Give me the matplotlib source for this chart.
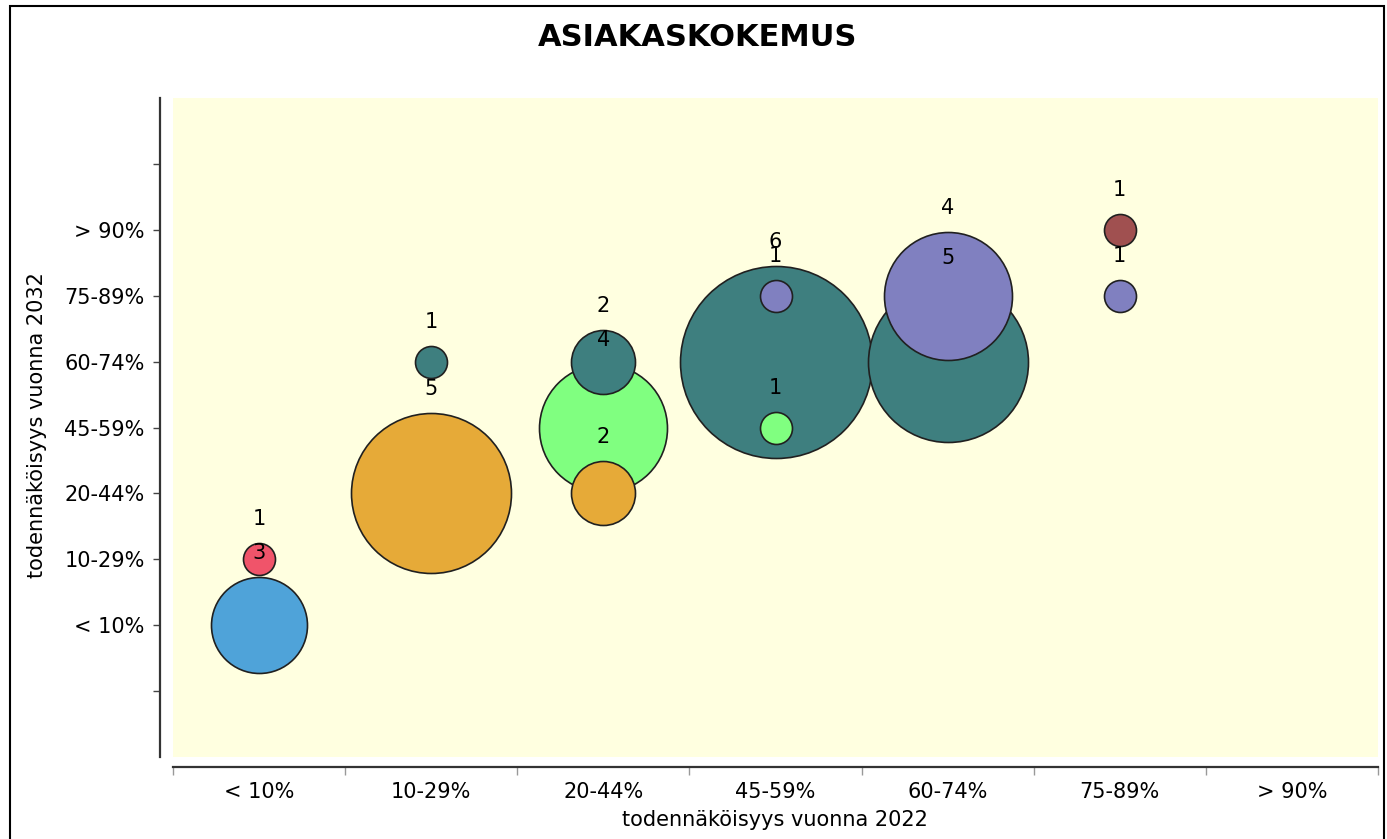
import matplotlib
matplotlib.use("Agg")
import matplotlib.pyplot as plt
from matplotlib.patches import Rectangle

# Categories (same scale on both axes)
categories = ["< 10%", "10-29%", "20-44%", "45-59%", "60-74%", "75-89%", "> 90%"]

# Bubbles: x category index, y category index, count, colour
bubble_x = [0, 0, 1, 1, 2, 2, 2, 3, 3, 3, 4, 4, 5, 5]
bubble_y = [0, 1, 2, 4, 4, 3, 2, 4, 5, 3, 4, 5, 6, 5]
bubble_n = [3, 1, 5, 1, 2, 4, 2, 6, 1, 1, 5, 4, 1, 1]
bubble_c = ["#4FA3D9", "#F0546A", "#E6AA38", "#3E7F7F", "#3E7F7F", "#80FF80",
            "#E6AA38", "#3E7F7F", "#8080C0", "#80FF80", "#3E7F7F", "#8080C0",
            "#A05050", "#8080C0"]

DPI = 100
R_PX = 16  # bubble radius per count, pixels

fig = plt.figure(figsize=(13.87, 8.39), dpi=DPI)
fig.patch.set_facecolor("white")
ax = fig.add_axes([173 / 1387, 82 / 839, 1205 / 1387, 659 / 839])
ax.set_facecolor("#FFFFE0")

# biggest first so small bubbles sit on top
order = sorted(range(len(bubble_n)), key=lambda i: -bubble_n[i])
for i in order:
    r_pt = bubble_n[i] * R_PX * 72 / DPI
    ax.scatter(bubble_x[i], bubble_y[i] + 1, s=(2 * r_pt) ** 2, color=bubble_c[i],
               edgecolor="#202020", linewidth=1.2, zorder=2)
for i in order:
    r_px = bubble_n[i] * R_PX
    ax.annotate(str(bubble_n[i]), (bubble_x[i], bubble_y[i] + 1),
                xytext=(0, (r_px + 24) * 72 / DPI), textcoords="offset points",
                ha="center", va="center", fontsize=15, color="black", zorder=5)

ax.set_xlim(-0.5, 6.5)
ax.set_ylim(-1, 9)

# x axis: boundary ticks, labels at category centres
ax.set_xticks([i - 0.5 for i in range(8)])
ax.set_xticklabels([])
ax.set_xticks(range(7), minor=True)
ax.set_xticklabels(categories, minor=True)
ax.tick_params(axis="x", which="major", length=6, color="#999999", width=1)
ax.tick_params(axis="x", which="minor", length=0, pad=10.5, labelsize=15)

ax.set_yticks(range(9))
ax.set_yticklabels([""] + categories + [""])
ax.tick_params(axis="y", length=5, width=1, color="#444444", pad=6, labelsize=15)

for side in ("top", "right"):
    ax.spines[side].set_visible(False)
ax.spines["left"].set_position(("outward", 9.4))
ax.spines["bottom"].set_position(("outward", 7.2))
ax.spines["left"].set_linewidth(1.6)
ax.spines["bottom"].set_linewidth(1.6)
ax.spines["left"].set_color("#333333")
ax.spines["bottom"].set_color("#333333")

ax.set_xlabel("todennäköisyys vuonna 2022", fontsize=15)
ax.set_ylabel("todennäköisyys vuonna 2032", fontsize=15)
ax.xaxis.set_label_coords(0.4996, -0.0805)
ax.yaxis.set_label_coords(-0.1046, 0.504)

fig.text(698 / 1387, 1 - 37 / 839, "ASIAKASKOKEMUS", ha="center", va="center",
         fontsize=22, fontweight="bold")

# outer frame
fig.patches.append(Rectangle((10 / 1387, -0.05), 1374 / 1387, 1.05 - 6 / 839,
                             transform=fig.transFigure, fill=False,
                             edgecolor="black", linewidth=1.5))

fig.savefig("out.png", dpi=DPI)
